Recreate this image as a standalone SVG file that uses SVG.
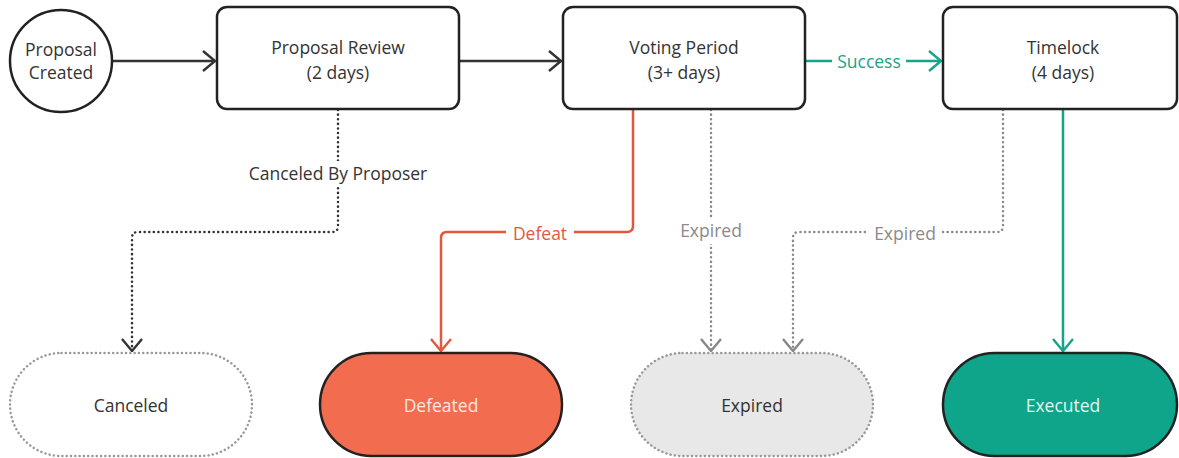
<svg xmlns="http://www.w3.org/2000/svg" width="1179" height="458" viewBox="0 0 1179 458">
<defs>
<marker id="arDark" viewBox="0 0 14 22" refX="13" refY="11" markerWidth="14" markerHeight="22" markerUnits="userSpaceOnUse" orient="auto"><path d="M1,1 L13,11 L1,21" fill="none" stroke="#333" stroke-width="2.4"/></marker>
<marker id="arTeal" viewBox="0 0 14 22" refX="13" refY="11" markerWidth="14" markerHeight="22" markerUnits="userSpaceOnUse" orient="auto"><path d="M1,1 L13,11 L1,21" fill="none" stroke="#17a589" stroke-width="2.4"/></marker>
<marker id="arRed" viewBox="0 0 14 22" refX="13" refY="11" markerWidth="14" markerHeight="22" markerUnits="userSpaceOnUse" orient="auto"><path d="M1,1 L13,11 L1,21" fill="none" stroke="#e2583e" stroke-width="2.4"/></marker>
<marker id="arGray" viewBox="0 0 14 22" refX="13" refY="11" markerWidth="14" markerHeight="22" markerUnits="userSpaceOnUse" orient="auto"><path d="M1,1 L13,11 L1,21" fill="none" stroke="#888" stroke-width="2.4"/></marker>
</defs>
<style>
text{font-family:"Open Sans","Noto Sans","Liberation Sans",sans-serif;font-size:17.5px;text-anchor:middle;dominant-baseline:central}
.node{fill:#fff;stroke:#222;stroke-width:2.5}
.t{fill:#333}
.conn{fill:none;stroke-width:2.5}
.dark{stroke:#333}
.teal{stroke:#17a589}
.red{stroke:#e2583e}
.gray{stroke:#8a8a8a}
.dot{stroke-dasharray:0.1 4.5;stroke-linecap:round}
.lbl{fill:#fff}
</style>
<rect width="1179" height="458" fill="#fff"/>
<g id="connectors">
<path class="conn dark" d="M113,61 H215" marker-end="url(#arDark)"/>
<path class="conn dark" d="M459,61 H561" marker-end="url(#arDark)"/>
<path class="conn teal" d="M805,61 H941" marker-end="url(#arTeal)"/>
<rect class="lbl" x="832" y="50" width="74" height="22"/>
<text x="869" y="61" fill="#17a589">Success</text>
<path class="conn dark dot" d="M338,110 V226 Q338,232 332,232 H138 Q132,232 132,238 V351" marker-end="url(#arDark)"/>
<rect class="lbl" x="244" y="161" width="188" height="24"/>
<text x="338" y="173" fill="#333">Canceled By Proposer</text>
<path class="conn red" d="M633,110 V226 Q633,232 627,232 H447 Q441,232 441,238 V351" marker-end="url(#arRed)"/>
<rect class="lbl" x="506" y="222" width="68" height="22"/>
<text x="540" y="233" fill="#e2583e">Defeat</text>
<path class="conn gray dot" d="M711,110 V351" marker-end="url(#arGray)"/>
<rect class="lbl" x="676" y="218" width="70" height="26"/>
<text x="711" y="230" fill="#8a8a8a">Expired</text>
<path class="conn gray dot" d="M1003,110 V226 Q1003,232 997,232 H799 Q793,232 793,238 V351" marker-end="url(#arGray)"/>
<rect class="lbl" x="868" y="221" width="74" height="26"/>
<text x="905" y="233" fill="#8a8a8a">Expired</text>
<path class="conn teal" d="M1063,110 V351" marker-end="url(#arTeal)"/>
</g>
<g id="proposal-created">
<circle class="node" cx="61" cy="61" r="51"/>
<text class="t" x="61" y="49">Proposal</text>
<text class="t" x="61" y="72">Created</text>
</g>
<g id="proposal-review">
<rect class="node" x="217" y="7" width="242" height="102" rx="10"/>
<text class="t" x="338" y="47">Proposal Review</text>
<text class="t" x="338" y="72">(2 days)</text>
</g>
<g id="voting-period">
<rect class="node" x="563" y="7" width="242" height="102" rx="10"/>
<text class="t" x="684" y="47">Voting Period</text>
<text class="t" x="684" y="72">(3+ days)</text>
</g>
<g id="timelock">
<rect class="node" x="943" y="7" width="234" height="102" rx="10"/>
<text class="t" x="1063" y="47">Timelock</text>
<text class="t" x="1063" y="72">(4 days)</text>
</g>
<g id="canceled">
<rect x="10" y="353" width="242" height="103" rx="51.5" fill="#fff" stroke="#999" stroke-width="2.5" stroke-dasharray="0.1 4.2" stroke-linecap="round"/>
<text class="t" x="131" y="405">Canceled</text>
</g>
<g id="defeated">
<rect x="320" y="353" width="242" height="103" rx="51.5" fill="#f26c4f" stroke="#222" stroke-width="2.5"/>
<text x="441" y="405" fill="#fde9e3">Defeated</text>
</g>
<g id="expired">
<rect x="631" y="353" width="242" height="103" rx="51.5" fill="#e8e8e8" stroke="#999" stroke-width="2.5" stroke-dasharray="0.1 4.2" stroke-linecap="round"/>
<text class="t" x="752" y="405">Expired</text>
</g>
<g id="executed">
<rect x="943" y="353" width="234" height="103" rx="51.5" fill="#0fa58a" stroke="#222" stroke-width="2.5"/>
<text x="1063" y="405" fill="#e2f6f0">Executed</text>
</g>
</svg>
